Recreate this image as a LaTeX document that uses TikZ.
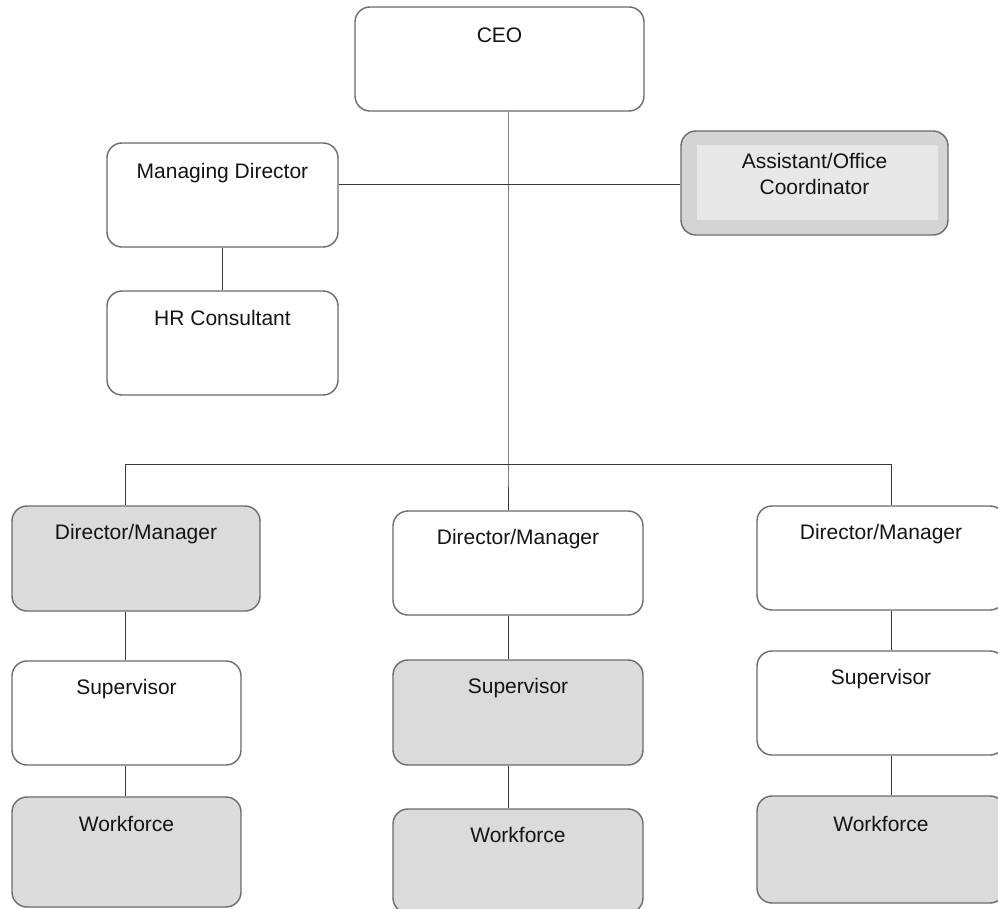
\documentclass[tikz,border=0pt]{standalone}
\usepackage{fontspec}
\setmainfont{Liberation Sans}
\begin{document}
\begin{tikzpicture}[x=1pt,y=-1pt,
  box/.style={draw=black!58, line width=1.4pt, rounded corners=15pt, inner sep=0pt},
  wbox/.style={box, fill=white},
  gbox/.style={box, fill=black!14},
  txt/.style={anchor=base, inner sep=0pt, text=black!92, font=\fontsize{21}{26}\selectfont},
  conn/.style={draw=black!78, line width=1pt}]
\useasboundingbox (0,0) rectangle (998,909);
\clip (0,0) rectangle (998,909);
\fill[white] (0,0) rectangle (998,909);
% boxes
\node[wbox, minimum width=289pt, minimum height=104pt] (ceo) at (499.5,59) {};
\node[txt] (tceo) at ([yshift=-36pt]ceo.north) {CEO};
\node[wbox, minimum width=231pt, minimum height=104pt] (md) at (222.5,195) {};
\node[txt] (tmd) at ([yshift=-36pt]md.north) {Managing Director};
\node[wbox, minimum width=231pt, minimum height=104pt] (hr) at (222.5,343) {};
\node[txt] (thr) at ([yshift=-35pt]hr.north) {HR Consultant};
\node[box, fill=black!17, minimum width=267pt, minimum height=104pt] (asst) at (814.5,183) {};
\fill[black!9] (697,145) rectangle (938,220);
\node[txt] (tasst1) at ([yshift=-38pt]asst.north) {Assistant/Office};
\node[txt] (tasst2) at ([yshift=-64pt]asst.north) {Coordinator};
\node[gbox, minimum width=248pt, minimum height=105pt] (dmL) at (136,558.5) {};
\node[txt] (tdmL) at ([yshift=-34pt]dmL.north) {Director/Manager};
\node[wbox, minimum width=250pt, minimum height=104pt] (dmM) at (518,563) {};
\node[txt] (tdmM) at ([yshift=-34pt]dmM.north) {Director/Manager};
\node[wbox, minimum width=248pt, minimum height=104pt] (dmR) at (881,558) {};
\node[txt] (tdmR) at ([yshift=-34pt]dmR.north) {Director/Manager};
\node[wbox, minimum width=229pt, minimum height=104pt] (supL) at (126.5,713) {};
\node[txt] (tsupL) at ([yshift=-34pt]supL.north) {Supervisor};
\node[gbox, minimum width=250pt, minimum height=105pt] (supM) at (518,712.5) {};
\node[txt] (tsupM) at ([yshift=-34pt]supM.north) {Supervisor};
\node[wbox, minimum width=248pt, minimum height=104pt] (supR) at (881,703) {};
\node[txt] (tsupR) at ([yshift=-34pt]supR.north) {Supervisor};
\node[gbox, minimum width=229pt, minimum height=110pt] (wfL) at (126.5,852) {};
\node[txt] (twfL) at ([yshift=-35pt]wfL.north) {Workforce};
\node[gbox, minimum width=250pt, minimum height=104pt] (wfM) at (518,861) {};
\node[txt] (twfM) at ([yshift=-34pt]wfM.north) {Workforce};
\node[gbox, minimum width=248pt, minimum height=107pt] (wfR) at (881,849.5) {};
\node[txt] (twfR) at ([yshift=-36pt]wfR.north) {Workforce};
% connector helpers
\coordinate (bc) at (508,464);
\coordinate (bl) at (125,464);
\coordinate (br) at (891,464);
\coordinate (hl) at (508,185);
\coordinate (mdx) at (222,0);
% connectors
\draw[conn] (ceo.south -| bc) -- (bc) -- (dmM.north -| bc);
\draw[conn] (md.east |- hl) -- (asst.west |- hl);
\draw[conn] (md.south -| mdx) -- (hr.north -| mdx);
\draw[conn] (dmL.north -| bl) -- (bl) -- (br) -- (dmR.north -| br);
\draw[conn] (dmL.south -| bl) -- (supL.north -| bl);
\draw[conn] (supL.south -| bl) -- (wfL.north -| bl);
\draw[conn] (dmM.south -| bc) -- (supM.north -| bc);
\draw[conn] (supM.south -| bc) -- (wfM.north -| bc);
\draw[conn] (dmR.south -| br) -- (supR.north -| br);
\draw[conn] (supR.south -| br) -- (wfR.north -| br);
\end{tikzpicture}
\end{document}
